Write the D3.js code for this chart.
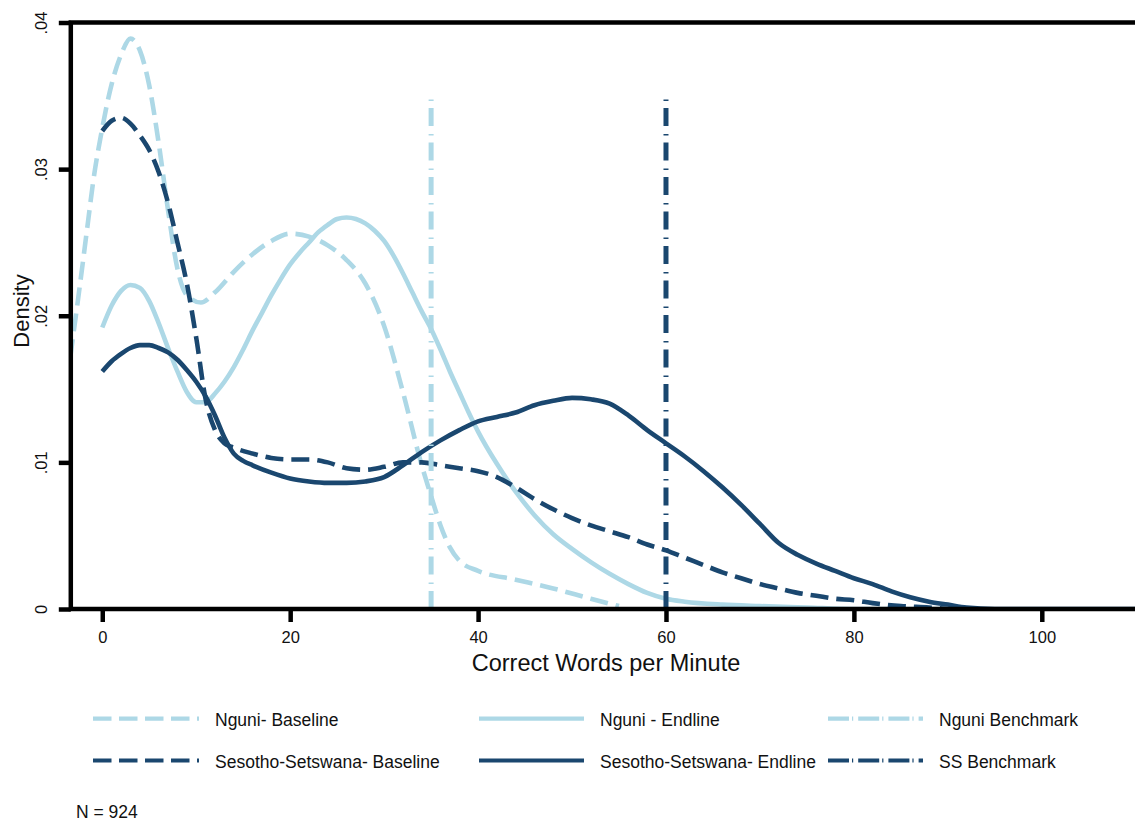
<!DOCTYPE html>
<html>
<head>
<meta charset="utf-8">
<script src="https://cdn.jsdelivr.net/npm/d3@7"></script>
<style>
  body { margin: 0; background: #fff; }
  text { font-family: "Liberation Sans", Arial, sans-serif; fill: #111; }
</style>
</head>
<body>
<div id="chart"></div>
<script>
  const width = 1135;
  const height = 821;
  const margin = { top: 22.5, left: 70.8, bottom: 609, right: 1150 };

  const lightBlue = "#add8e6";
  const navy = "#1a476f";

  // kernel densities: [words per minute, density]
  const nguniBaseline = [[-3.4,0.0172],[-2.5,0.0215],[-1.5,0.0265],[-1,0.029],[0,0.0328],[1,0.0358],[2,0.0378],[3,0.0389],[4,0.0381],[5,0.0357],[6,0.0318],[7,0.0272],[8,0.0232],[9,0.0214],[10.5,0.0209],[12,0.0216],[14,0.023],[16,0.0242],[18,0.0251],[20,0.0256],[22,0.0254],[24,0.0248],[26,0.0238],[28,0.0222],[30,0.0193],[32,0.0148],[34,0.0098],[35,0.0077],[36,0.0057],[37,0.0042],[38,0.0033],[40,0.0026],[44,0.002],[48,0.0014],[52,0.0007],[55,0.0002]];
  const nguniEndline = [[0,0.0192],[1,0.0207],[2,0.0217],[3,0.0221],[4,0.0219],[5,0.021],[6,0.0195],[7,0.0178],[8,0.0162],[9,0.0148],[10,0.0141],[11,0.0141],[12,0.0147],[13,0.0155],[14,0.0165],[15,0.0177],[16,0.019],[17,0.0202],[18,0.0214],[19,0.0225],[20,0.0235],[21,0.0243],[22,0.025],[23,0.0257],[24,0.0262],[25,0.0266],[26,0.0267],[27,0.0266],[28,0.0263],[29,0.0258],[30,0.0251],[31,0.0241],[32,0.0229],[33,0.0216],[34,0.0203],[35,0.0191],[36,0.0177],[37,0.0162],[38,0.0148],[39,0.0134],[40,0.0121],[42,0.0099],[44,0.008],[46,0.0064],[48,0.0051],[50,0.0041],[52,0.0032],[54,0.0024],[56,0.0017],[58,0.0011],[60,0.0007],[62,0.0005],[66,0.0003],[70,0.0002],[75,0.0001],[80,0],[90,0]];
  const ssBaseline = [[0,0.0326],[1,0.0333],[2,0.0335],[3,0.0331],[4,0.0323],[5,0.0313],[6,0.0298],[7,0.0277],[8,0.025],[9,0.0222],[10,0.0185],[11,0.0143],[12,0.0122],[13,0.0113],[14,0.011],[16,0.0106],[18,0.0103],[20,0.0102],[22,0.0102],[24,0.01],[26,0.0096],[28,0.0095],[30,0.0097],[32,0.01],[34,0.01],[36,0.0098],[38,0.0096],[40,0.0094],[42,0.009],[44,0.0083],[46,0.0075],[48,0.0068],[50,0.0062],[52,0.0057],[54,0.0053],[56,0.0049],[58,0.0044],[60,0.004],[62,0.0035],[64,0.003],[66,0.0025],[68,0.0021],[70,0.0017],[72,0.0014],[74,0.0011],[76,0.0009],[78,0.0007],[80,0.0006],[82,0.0004],[85,0.0002],[88,0.0001],[90,0]];
  const ssEndline = [[0,0.0162],[1,0.0169],[2,0.0174],[3,0.0178],[4,0.018],[5,0.018],[6,0.0178],[7,0.0175],[8,0.017],[9,0.0163],[10,0.0155],[11,0.0145],[12,0.0132],[13,0.0117],[14,0.0106],[15,0.0101],[16,0.0098],[18,0.0093],[20,0.0089],[22,0.0087],[24,0.0086],[26,0.0086],[28,0.0087],[30,0.009],[32,0.0098],[34,0.0107],[36,0.0115],[38,0.0122],[40,0.0128],[42,0.0131],[44,0.0134],[46,0.0139],[48,0.0142],[50,0.0144],[52,0.0143],[54,0.014],[56,0.0132],[58,0.0122],[60,0.0113],[62,0.0104],[64,0.0094],[66,0.0083],[68,0.0071],[70,0.0058],[72,0.0045],[74,0.0037],[76,0.0031],[78,0.0026],[80,0.0021],[82,0.0017],[84,0.0012],[86,0.0008],[88,0.0005],[90,0.0003],[92,0.0001],[95,0],[112,0]];

  const benchmarks = [35, 60];
  const benchmarkTop = 0.035;

  const xTicks = [0, 20, 40, 60, 80, 100];
  const yTicks = [0, 0.01, 0.02, 0.03, 0.04];
  const yTickLabels = ["0", ".01", ".02", ".03", ".04"];

  const series = [
    { name: "Nguni- Baseline", data: nguniBaseline, color: lightBlue, dash: "18,8" },
    { name: "Nguni - Endline", data: nguniEndline, color: lightBlue, dash: null },
    { name: "Sesotho-Setswana- Baseline", data: ssBaseline, color: navy, dash: "18,8" },
    { name: "Sesotho-Setswana- Endline", data: ssEndline, color: navy, dash: null }
  ];
  const benchSeries = [
    { name: "Nguni Benchmark", value: benchmarks[0], color: lightBlue },
    { name: "SS Benchmark", value: benchmarks[1], color: navy }
  ];

  const svg = d3.select("#chart").append("svg")
    .attr("width", width)
    .attr("height", height);

  const x = d3.scaleLinear()
    .domain([-3.35, 112])
    .range([margin.left, 102.3 + 112 * 9.395]);

  const y = d3.scaleLinear()
    .domain([0, 0.04])
    .range([margin.bottom, margin.top]);

  svg.append("clipPath").attr("id", "plot-clip")
    .append("rect")
    .attr("x", margin.left).attr("y", margin.top)
    .attr("width", width - margin.left).attr("height", margin.bottom - margin.top);

  const line = d3.line()
    .x(d => x(d[0]))
    .y(d => y(d[1]))
    .curve(d3.curveMonotoneX);

  const plot = svg.append("g").attr("clip-path", "url(#plot-clip)");

  // density curves
  plot.selectAll("path.curve")
    .data(series)
    .join("path")
    .attr("class", "curve")
    .attr("d", d => line(d.data))
    .attr("fill", "none")
    .attr("stroke", d => d.color)
    .attr("stroke-width", 4.6)
    .attr("stroke-dasharray", d => d.dash);

  // benchmark lines
  plot.selectAll("line.bench")
    .data(benchSeries)
    .join("line")
    .attr("class", "bench")
    .attr("x1", d => x(d.value))
    .attr("x2", d => x(d.value))
    .attr("y1", y(0))
    .attr("y2", y(benchmarkTop))
    .attr("stroke", d => d.color)
    .attr("stroke-width", 5)
    .attr("stroke-dasharray", "18,7,1.5,8");

  // frame
  svg.append("rect")
    .attr("x", margin.left).attr("y", margin.top)
    .attr("width", 1200).attr("height", margin.bottom - margin.top)
    .attr("fill", "none")
    .attr("stroke", "#000")
    .attr("stroke-width", 4.5);

  // x axis
  const xAxis = svg.append("g")
    .attr("transform", `translate(0,${margin.bottom})`)
    .call(d3.axisBottom(x).tickValues(xTicks).tickSize(13).tickPadding(18));
  xAxis.select(".domain").remove();
  xAxis.selectAll(".tick line").attr("stroke", "#000").attr("stroke-width", 4.5);
  xAxis.selectAll("text")
    .attr("font-size", "16.5px")
    .attr("fill", "#111")
    .attr("font-family", "Liberation Sans, Arial, sans-serif")
    .attr("dy", 0)
    .attr("y", 34);

  // y axis with rotated labels
  const yAxis = svg.append("g")
    .attr("transform", `translate(${margin.left},0)`)
    .call(d3.axisLeft(y).tickValues(yTicks).tickSize(12).tickFormat((d, i) => yTickLabels[i]));
  yAxis.select(".domain").remove();
  yAxis.selectAll(".tick line").attr("stroke", "#000").attr("stroke-width", 4.5);
  yAxis.selectAll("text")
    .attr("font-size", "16.5px")
    .attr("fill", "#111")
    .attr("font-family", "Liberation Sans, Arial, sans-serif")
    .attr("transform", "rotate(-90)")
    .attr("text-anchor", "middle")
    .attr("x", 0)
    .attr("y", -24)
    .attr("dy", 0);

  // axis titles
  svg.append("text")
    .attr("x", 606)
    .attr("y", 671)
    .attr("text-anchor", "middle")
    .style("font-size", "23.5px")
    .text("Correct Words per Minute");

  svg.append("text")
    .attr("transform", "translate(29,311) rotate(-90)")
    .attr("text-anchor", "middle")
    .style("font-size", "22px")
    .text("Density");

  // legend
  const legendItems = [
    { name: "Nguni- Baseline", color: lightBlue, dash: "18.5,7.5", col: 0, row: 0 },
    { name: "Nguni - Endline", color: lightBlue, dash: null, col: 1, row: 0 },
    { name: "Nguni Benchmark", color: lightBlue, dash: "21,3,1.2,5", col: 2, row: 0 },
    { name: "Sesotho-Setswana- Baseline", color: navy, dash: "18.5,7.5", col: 0, row: 1 },
    { name: "Sesotho-Setswana- Endline", color: navy, dash: null, col: 1, row: 1 },
    { name: "SS Benchmark", color: navy, dash: "21,3,1.2,5", col: 2, row: 1 }
  ];
  const colLine = [[93, 199], [479, 584], [828, 923]];
  const colText = [215, 600, 939];
  const rowY = [718.6, 760.5];

  const legend = svg.append("g");
  legend.selectAll("line")
    .data(legendItems)
    .join("line")
    .attr("x1", d => colLine[d.col][0])
    .attr("x2", d => colLine[d.col][1])
    .attr("y1", d => rowY[d.row])
    .attr("y2", d => rowY[d.row])
    .attr("stroke", d => d.color)
    .attr("stroke-width", 4.2)
    .attr("stroke-dasharray", d => d.dash);

  legend.selectAll("text")
    .data(legendItems)
    .join("text")
    .attr("x", d => colText[d.col])
    .attr("y", d => rowY[d.row] + 7.2)
    .style("font-size", "17.5px")
    .text(d => d.name);

  svg.append("text")
    .attr("x", 76)
    .attr("y", 818)
    .style("font-size", "17.5px")
    .text("N = 924");
</script>
</body>
</html>
